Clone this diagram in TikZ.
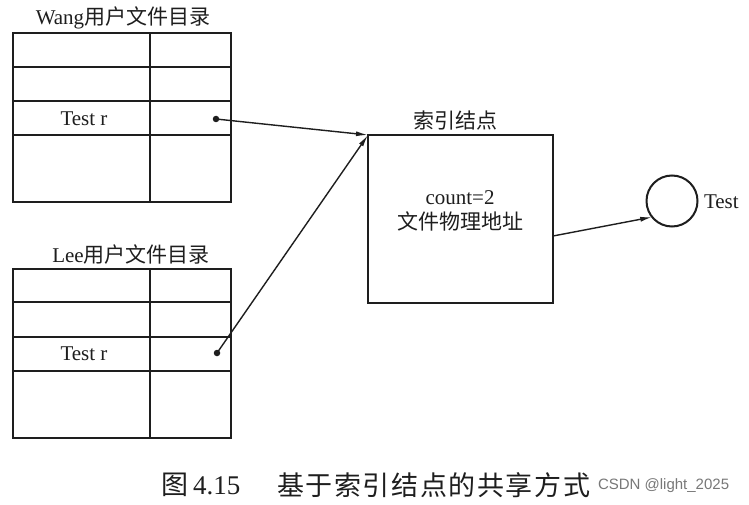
\documentclass[tikz,border=0pt]{standalone}
\usepackage{fontspec}
\setmainfont{Liberation Serif}
\setsansfont{Liberation Sans}
\newfontfamily\cjk{Noto Sans CJK SC}
\newfontfamily\cjkcap[LetterSpace=6]{Noto Sans CJK SC}
\usetikzlibrary{arrows.meta,calc}
\definecolor{ink}{RGB}{30,30,30}
\definecolor{wm}{RGB}{120,120,120}
\begin{document}
\begin{tikzpicture}[x=1pt,y=-1pt,
  every node/.style={inner sep=0pt,outer sep=0pt,text=ink},
  lbl/.style={font=\fontsize{21}{25}\selectfont},
  tablebox/.style={draw=ink,line width=2pt,minimum width=218pt,minimum height=169pt},
  rowline/.style={draw=ink,line width=1.4pt},
  dotnode/.style={circle,fill=ink,minimum size=6.5pt},
  conn/.style={draw=ink,line width=1.4pt,-{Latex[length=12pt,width=5pt]}},
  idxbox/.style={draw=ink,line width=2pt,minimum width=185pt,minimum height=168pt},
  filecirc/.style={circle,draw=ink,line width=2pt,minimum size=51pt}
]
\useasboundingbox (0,0) rectangle (749,505);
\fill[white] (0,0) rectangle (749,505);

% Wang table
\node[tablebox] (wang) at (122,117.5) {};
\node[lbl] (wangt) at (123,18) {Wang{\cjk 用户文件目录}};
\foreach \dy in {34,68,102}
  \draw[rowline] ($(wang.north west)+(0,\dy)$) -- ($(wang.north east)+(0,\dy)$);
\draw[rowline] ($(wang.north west)+(137,0)$) -- ($(wang.south west)+(137,0)$);
\node[lbl] (wtr) at (84,119) {Test r};
\node[dotnode] (wdot) at (216,119) {};

% Lee table
\node[tablebox] (lee) at (122,353.5) {};
\node[lbl] (leet) at (131,255) {Lee{\cjk 用户文件目录}};
\foreach \dy in {33,68,102}
  \draw[rowline] ($(lee.north west)+(0,\dy)$) -- ($(lee.north east)+(0,\dy)$);
\draw[rowline] ($(lee.north west)+(137,0)$) -- ($(lee.south west)+(137,0)$);
\node[lbl] (ltr) at (84,354) {Test r};
\node[dotnode] (ldot) at (217,353) {};

% index node
\node[idxbox] (idx) at (460.5,219) {};
\node[lbl] (idxt) at (455,121) {\cjk 索引结点};
\node[lbl,align=center,font=\fontsize{21}{25}\selectfont] (idxtext) at (460,211) {count=2\\{\cjk 文件物理地址}};

% file circle
\node[filecirc] (file) at (672,201) {};
\node[lbl,anchor=west] (filet) at (704,202) {Test};

% connectors
\draw[conn] (wdot.center) -- (idx.north west);
\draw[conn] (ldot.center) -- (idx.north west);
\coordinate (idxout) at ([yshift=-17pt]idx.east);
\draw[conn] (idxout) -- (file.219);

% caption
\node[anchor=west,font=\fontsize{27}{30}\selectfont\cjk] (capa) at (161,485) {图};
\node[anchor=west,font=\fontsize{27}{30}\selectfont] (capb) at (193,486) {4.15};
\node[anchor=west,font=\fontsize{27}{30}\selectfont\cjkcap] (capc) at (277,485) {基于索引结点的共享方式};
\node[anchor=west,font=\fontsize{15}{18}\selectfont\sffamily,text=wm] (wmk) at (598,486) {CSDN @light\_2025};
\end{tikzpicture}
\end{document}
